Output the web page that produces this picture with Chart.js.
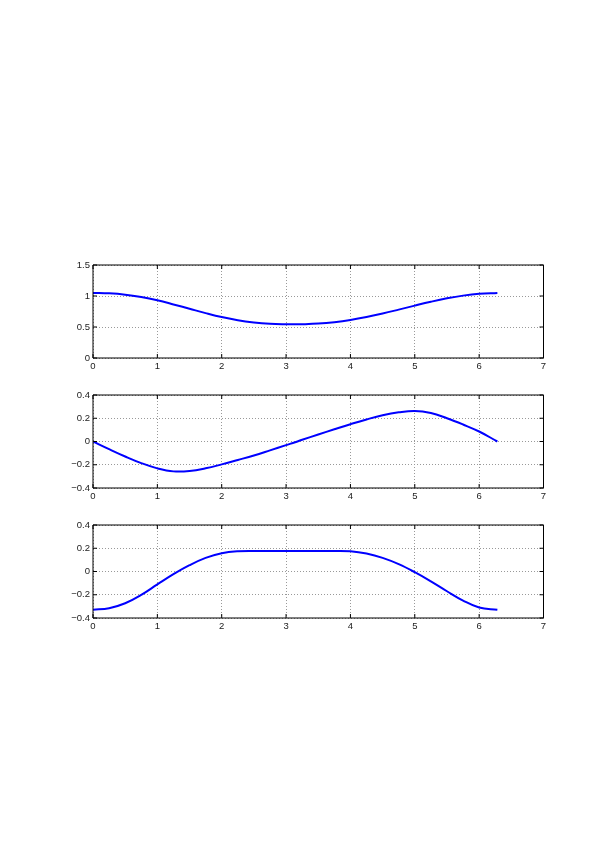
<!DOCTYPE html>
<html>
<head>
<meta charset="utf-8">
<script src="https://cdn.jsdelivr.net/npm/chart.js@4"></script>
<style>
  html, body { margin: 0; padding: 0; background: #ffffff; }
  body { width: 599px; height: 848px; position: relative; overflow: hidden; }
  canvas { position: absolute; left: 0; }
</style>
</head>
<body>
<canvas id="c1" width="599" height="128" style="top:254.5px"></canvas>
<canvas id="c2" width="599" height="128" style="top:385px"></canvas>
<canvas id="c3" width="599" height="128" style="top:515px"></canvas>
<script>
// ---- data ----
const xValues = [0, 0.25, 0.5, 0.75, 1, 1.25, 1.5, 1.75, 2, 2.25, 2.5, 2.75, 3, 3.1416, 3.25, 3.5, 3.75, 4, 4.25, 4.5, 4.75, 5, 5.25, 5.5, 5.75, 6, 6.2832];
const series1 = [1.05, 1.043, 1.022, 0.983, 0.93, 0.864, 0.794, 0.724, 0.66, 0.608, 0.573, 0.552, 0.544, 0.543, 0.544, 0.555, 0.578, 0.613, 0.66, 0.717, 0.78, 0.845, 0.907, 0.962, 1.006, 1.036, 1.05];
const series2 = [0, -0.066, -0.129, -0.186, -0.231, -0.257, -0.254, -0.231, -0.197, -0.159, -0.12, -0.076, -0.031, -0.006, 0.015, 0.06, 0.105, 0.149, 0.19, 0.226, 0.251, 0.263, 0.245, 0.2, 0.146, 0.086, 0];
const series3 = [-0.329, -0.316, -0.273, -0.201, -0.111, -0.023, 0.054, 0.117, 0.157, 0.174, 0.177, 0.177, 0.176, 0.176, 0.176, 0.176, 0.177, 0.174, 0.154, 0.117, 0.063, -0.006, -0.085, -0.17, -0.25, -0.31, -0.329];
const xTickLabels = ['0', '1', '2', '3', '4', '5', '6', '7'];
const yTickLabels1 = ['0', '0.5', '1', '1.5'];
const yTickLabels2 = ['\u22120.4', '\u22120.2', '0', '0.2', '0.4'];
const yTickLabels3 = ['\u22120.4', '\u22120.2', '0', '0.2', '0.4'];

const FONT = { family: '"Liberation Sans", Arial, Helvetica, sans-serif', size: 9.5 };

const framePlugin = {
  id: 'frame',
  afterDraw(chart) {
    const { ctx, chartArea: a, scales } = chart;
    ctx.save();
    ctx.strokeStyle = '#000';
    ctx.lineWidth = 1;
    ctx.beginPath();
    ctx.rect(a.left, a.top, a.right - a.left, a.bottom - a.top);
    ctx.stroke();
    const L = 4;
    ctx.beginPath();
    scales.x.ticks.forEach(t => {
      const px = scales.x.getPixelForValue(t.value);
      ctx.moveTo(px, a.bottom); ctx.lineTo(px, a.bottom - L);
      ctx.moveTo(px, a.top); ctx.lineTo(px, a.top + L);
    });
    scales.y.ticks.forEach(t => {
      const py = scales.y.getPixelForValue(t.value);
      ctx.moveTo(a.left, py); ctx.lineTo(a.left + L, py);
      ctx.moveTo(a.right, py); ctx.lineTo(a.right - L, py);
    });
    ctx.stroke();
    ctx.restore();
  }
};

function makeChart(id, values, yMin, yMax, yStep, yLabels) {
  const pts = xValues.map((x, i) => ({ x: x, y: values[i] }));
  return new Chart(document.getElementById(id), {
    type: 'line',
    data: {
      datasets: [{
        data: pts,
        borderColor: '#0000ff',
        borderWidth: 2,
        pointRadius: 0,
        fill: false,
        tension: 0.4
      }]
    },
    options: {
      responsive: false,
      animation: false,
      devicePixelRatio: 1,
      layout: { padding: { top: 10, left: 0, right: 55.5, bottom: 0 } },
      plugins: { legend: { display: false }, tooltip: { enabled: false } },
      scales: {
        x: {
          type: 'linear',
          min: 0, max: 7,
          ticks: {
            stepSize: 1, padding: 3, color: '#222', font: FONT, maxRotation: 0,
            callback: (v, i) => xTickLabels[i]
          },
          grid: { color: '#999', lineWidth: 1, drawTicks: false },
          border: { display: false, dash: [1, 2] },
          afterFit(s) { s.height = 25; }
        },
        y: {
          type: 'linear',
          min: yMin, max: yMax,
          ticks: {
            stepSize: yStep, padding: 3, color: '#222', font: FONT,
            callback: (v, i) => yLabels[i]
          },
          grid: { color: '#999', lineWidth: 1, drawTicks: false },
          border: { display: false, dash: [1, 2] },
          afterFit(s) { s.width = 93; }
        }
      }
    },
    plugins: [framePlugin]
  });
}

makeChart('c1', series1, 0, 1.5, 0.5, yTickLabels1);
makeChart('c2', series2, -0.4, 0.4, 0.2, yTickLabels2);
makeChart('c3', series3, -0.4, 0.4, 0.2, yTickLabels3);
</script>
</body>
</html>
